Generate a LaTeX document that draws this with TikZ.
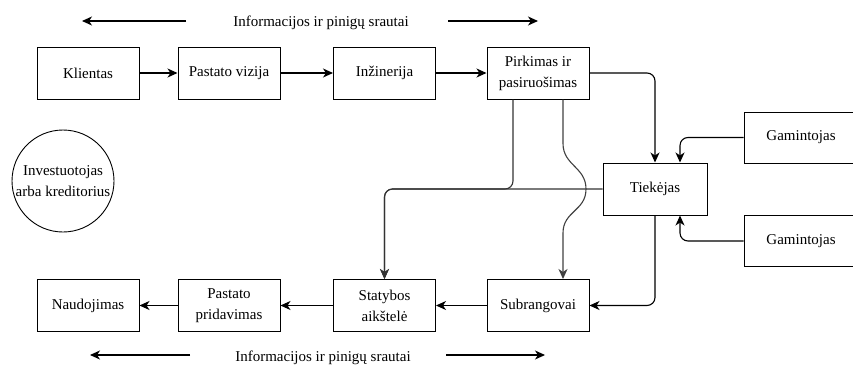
\documentclass[tikz,border=0pt]{standalone}
\usepackage{fontspec}
\setmainfont{Liberation Serif}
\usetikzlibrary{arrows.meta}
\begin{document}
\begin{tikzpicture}[x=1pt,y=-1pt, font=\fontsize{15}{21}\selectfont,
  box/.style={draw, line width=1pt, minimum width=102pt, minimum height=52pt, align=center, inner sep=0pt},
  arr/.style={-{Stealth[length=10pt,width=9pt,inset=3pt]}, line width=1.1pt},
  conn/.style={arr, rounded corners=8pt}]
\useasboundingbox (0,0) rectangle (853,364);
\clip (0,0) rectangle (853,364);

% top row
\node[box] (kli) at (88,73) {Klientas};
\node[box] (viz) at (229,73) {Pastato vizija};
\node[box] (inz) at (384.5,73) {Inžinerija};
\node[box] (pir) at (538,73) {Pirkimas ir\\pasiruošimas};
% bottom row
\node[box] (nau) at (88,305.5) {Naudojimas};
\node[box] (pri) at (229,305.5) {Pastato\\pridavimas};
\node[box] (sta) at (384.5,305.5) {Statybos\\aikštelė};
\node[box] (sub) at (538,305.5) {Subrangovai};
% right
\node[box, minimum width=104pt] (tie) at (655,189) {Tiekėjas};
\node[box, minimum width=114pt, minimum height=51pt] (ga1) at (801,137.5) {Gamintojas};
\node[box, minimum width=114pt, minimum height=51pt] (ga2) at (801,241) {Gamintojas};
% circle
\node[draw, circle, line width=0.9pt, minimum size=102pt, inner sep=0pt, align=center] (inv) at (63,181) {Investuotojas\\arba kreditorius};

% top flow
\draw[arr] (kli) -- (viz);
\draw[arr] (viz) -- (inz);
\draw[arr] (inz) -- (pir);
\draw[conn] (pir.east) -| (tie.north);
\draw[conn] (ga1.west) -| ([xshift=25pt]tie.north);
\draw[conn] (ga2.west) -| ([xshift=25pt]tie.south);
\draw[conn] (tie.south) |- (sub.east);
\draw[conn, draw=black!80] (tie.west) -| (sta.north);
\draw[conn, draw=black!80] ([xshift=-25pt]pir.south) |- (sta.north |- tie.west) -- (sta.north);
\draw[arr, draw=black!75] ([xshift=25pt]pir.south) -- ++(0,44)
   .. controls +(0,22) and +(0,-22) .. ([xshift=48pt]pir.south |- tie.west)
   .. controls +(0,22) and +(0,-22) .. ([xshift=25pt]sub.north |- 0,233)
   -- ([xshift=25pt]sub.north);
% bottom flow
\draw[arr] (sub) -- (sta);
\draw[arr] (sta) -- (pri);
\draw[arr] (pri) -- (nau);

% titles
\node[anchor=base] (t1) at (321,26) {Informacijos ir pinigų srautai};
\coordinate (t1a) at (186,21); \coordinate (t1b) at (82,21);
\coordinate (t1c) at (448,21); \coordinate (t1d) at (538,21);
\draw[arr] (t1a) -- (t1b);
\draw[arr] (t1c) -- (t1d);
\node[anchor=base] (t2) at (323,361) {Informacijos ir pinigų srautai};
\coordinate (t2a) at (190,355); \coordinate (t2b) at (90,355);
\coordinate (t2c) at (446,355); \coordinate (t2d) at (545,355);
\draw[arr] (t2a) -- (t2b);
\draw[arr] (t2c) -- (t2d);
\end{tikzpicture}
\end{document}
